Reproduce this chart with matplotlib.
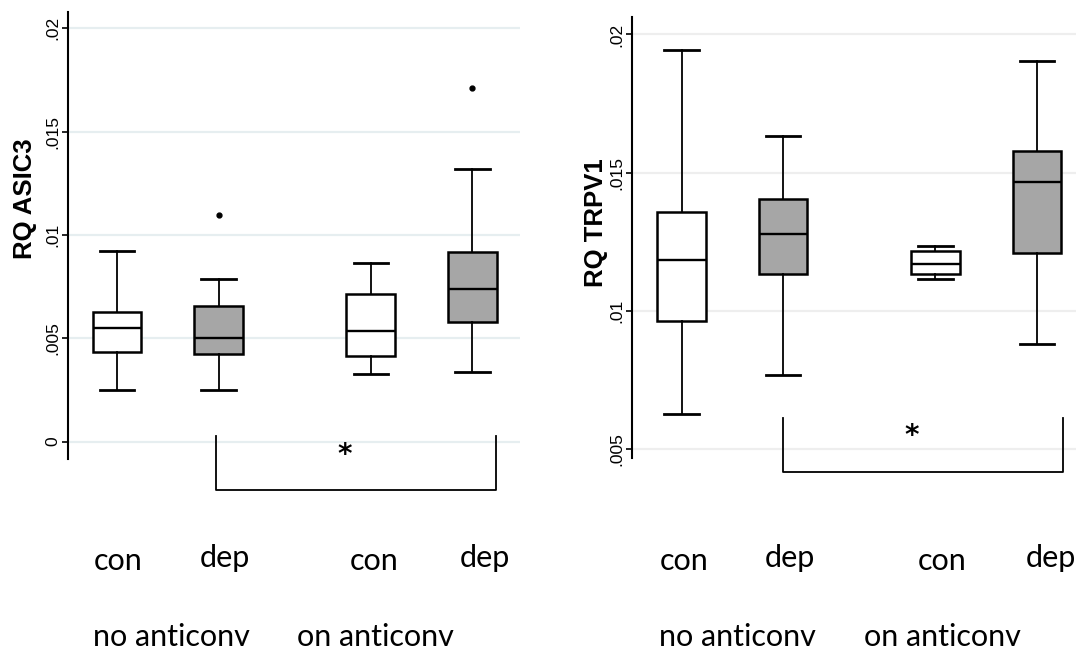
import matplotlib
matplotlib.use("Agg")
import matplotlib.pyplot as plt
import matplotlib.transforms as mtransforms

# box statistics: whislo, q1, med, q3, whishi, outliers
asic3_whislo = [0.00250, 0.00250, 0.00329, 0.00338]
asic3_q1 = [0.00435, 0.00424, 0.00414, 0.00580]
asic3_med = [0.00548, 0.00500, 0.00537, 0.00740]
asic3_q3 = [0.00626, 0.00658, 0.00714, 0.00919]
asic3_whishi = [0.00923, 0.00787, 0.00863, 0.01321]
asic3_fliers = [[], [0.01097], [], [0.01712]]

trpv1_whislo = [0.00628, 0.00769, 0.01116, 0.00882]
trpv1_q1 = [0.00964, 0.01132, 0.01132, 0.01208]
trpv1_med = [0.01184, 0.01277, 0.01171, 0.01466]
trpv1_q3 = [0.01356, 0.01406, 0.01215, 0.01580]
trpv1_whishi = [0.01945, 0.01633, 0.01235, 0.01904]
trpv1_fliers = [[], [], [], []]

groups = ["con", "dep", "con", "dep"]
conditions = ["no anticonv", "on anticonv"]
positions = [1, 2, 3.5, 4.5]
box_colors = ["white", "#a6a6a6", "white", "#a6a6a6"]

asic3_ticks = [0, 0.005, 0.01, 0.015, 0.02]
asic3_ticklabels = ["0", ".005", ".01", ".015", ".02"]
trpv1_ticks = [0.005, 0.01, 0.015, 0.02]
trpv1_ticklabels = [".005", ".01", ".015", ".02"]

label_font = "Lato"

fig = plt.figure(figsize=(10.76, 6.53), dpi=100)


def make_stats(lo, q1, med, q3, hi, fl):
    return [dict(whislo=a, q1=b, med=c, q3=d, whishi=e, fliers=f)
            for a, b, c, d, e, f in zip(lo, q1, med, q3, hi, fl)]


def draw_panel(rect, stats, xlim, ylim, ticks, ticklabels, ylabel, grid_color,
               label_x, group_x, bracket, star):
    ax = fig.add_axes(rect)
    bp = ax.bxp(stats, positions=positions, widths=0.48, capwidths=0.34,
                patch_artist=True,
                boxprops=dict(linewidth=1.8, edgecolor="black"),
                medianprops=dict(linewidth=1.7, color="black"),
                whiskerprops=dict(linewidth=1.3, color="black"),
                capprops=dict(linewidth=2.0, color="black"),
                flierprops=dict(marker="o", markersize=3.5, markerfacecolor="black",
                                markeredgecolor="black"))
    for patch, c in zip(bp["boxes"], box_colors):
        patch.set_facecolor(c)
    ax.set_xlim(*xlim)
    ax.set_ylim(*ylim)
    ax.set_yticks(ticks)
    ax.set_yticklabels(ticklabels, rotation=90, va="center",
                       family="Liberation Sans", fontsize=12.5)
    ax.tick_params(axis="y", length=4, width=1.2, pad=1.5)
    ax.set_xticks([])
    for s in ["top", "right", "bottom"]:
        ax.spines[s].set_visible(False)
    ax.spines["left"].set_linewidth(1.5)
    ax.yaxis.grid(True, color=grid_color, linewidth=1.6)
    ax.set_axisbelow(True)
    ax.set_ylabel(ylabel, fontsize=18.5, fontweight="bold", family="Liberation Sans")

    # significance bracket
    x0, x1, ytop, ybot = bracket
    ax.plot([x0, x0, x1, x1], [ytop, ybot, ybot, ytop], color="black",
            linewidth=1.3, clip_on=False)
    ax.text(star[0], star[1], "*", ha="center", va="center", fontsize=20,
            fontweight="bold", clip_on=False)

    tr = mtransforms.blended_transform_factory(ax.transData, fig.transFigure)
    for x, g in zip(label_x, groups):
        yb = 0.132 if g == "dep" else 0.127
        ax.text(x, yb, g, transform=tr, ha="center", va="baseline",
                family=label_font, fontsize=22)
    for x, c in zip(group_x, conditions):
        ax.text(x, 0.010, c, transform=tr, ha="center", va="baseline",
                family=label_font, fontsize=22)
    return ax


ax1 = draw_panel([0.0632, 0.2971, 0.4201, 0.685],
                 make_stats(asic3_whislo, asic3_q1, asic3_med, asic3_q3,
                            asic3_whishi, asic3_fliers),
                 (0.517, 4.97), (-0.00084, 0.0208),
                 asic3_ticks, asic3_ticklabels, "RQ ASIC3", "#e6eef0",
                 [1.01, 2.06, 3.53, 4.62], [1.54, 3.55],
                 (1.975, 4.734, 0.00027, -0.00236), (3.246, -0.00065))
ax1.yaxis.set_label_coords(-0.068, 0.583)

ax2 = draw_panel([0.5874, 0.2982, 0.4201, 0.6753],
                 make_stats(trpv1_whislo, trpv1_q1, trpv1_med, trpv1_q3,
                            trpv1_whishi, trpv1_fliers),
                 (0.512, 4.965), (0.00467, 0.02062),
                 trpv1_ticks, trpv1_ticklabels, "RQ TRPV1", "#eeeeee",
                 [1.03, 2.07, 3.57, 4.64], [1.55, 3.57],
                 (2.003, 4.756, 0.00612, 0.00419), (3.268, 0.00546))
ax2.yaxis.set_label_coords(-0.054, 0.534)

fig.savefig("out.png", dpi=100)
